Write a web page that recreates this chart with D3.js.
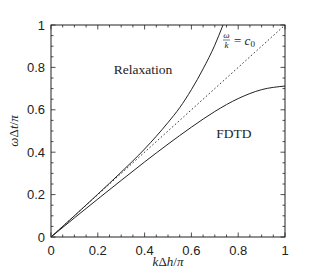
<!DOCTYPE html>
<html><head><meta charset="utf-8">
<script src="https://cdn.jsdelivr.net/npm/d3@7"></script>
<style>body{margin:0;background:#fff}svg{display:block}</style></head>
<body><svg id="c" width="320" height="274"></svg>
<script>
// ---- data ----
const relaxK = [0, 0.1, 0.2, 0.3, 0.4, 0.5, 0.55, 0.6, 0.65, 0.7, 0.735];
const relaxW = [0, 0.1, 0.202, 0.306, 0.415, 0.54, 0.61, 0.695, 0.793, 0.905, 1.0];
const fdtdK = [0, 0.1, 0.2, 0.3, 0.4, 0.5, 0.6, 0.7, 0.8, 0.9, 1.0];
const fdtdW = [0, 0.09, 0.179, 0.267, 0.354, 0.438, 0.518, 0.592, 0.653, 0.695, 0.712];
const lightK = [0, 1];
const lightW = [0, 1];
const xTicks = [0, 0.2, 0.4, 0.6, 0.8, 1];
const yTicks = [0, 0.2, 0.4, 0.6, 0.8, 1];
const minorTicks = d3.range(0, 1.0001, 0.05);

const L = 51, R = 285, T = 25, B = 237;
const svg = d3.select('#c');
const x = d3.scaleLinear().domain([0, 1]).range([L, R]);
const y = d3.scaleLinear().domain([0, 1]).range([B, T]);
const ink = '#222';

svg.append('clipPath').attr('id', 'clip').append('rect')
  .attr('x', L).attr('y', T).attr('width', R - L).attr('height', B - T);

const line = d3.line().x(d => x(d[0])).y(d => y(d[1])).curve(d3.curveMonotoneX);
const zip = (a, b) => a.map((v, i) => [v, b[i]]);

const g = svg.append('g').attr('clip-path', 'url(#clip)');
g.append('path').attr('d', line(zip(lightK, lightW))).attr('fill', 'none')
  .attr('stroke', ink).attr('stroke-width', 0.9).attr('stroke-dasharray', '1.6,2.2');
g.append('path').attr('d', line(zip(relaxK, relaxW))).attr('fill', 'none')
  .attr('stroke', ink).attr('stroke-width', 1);
g.append('path').attr('d', line(zip(fdtdK, fdtdW))).attr('fill', 'none')
  .attr('stroke', ink).attr('stroke-width', 1);

// frame
svg.append('rect').attr('x', L).attr('y', T).attr('width', R - L).attr('height', B - T)
  .attr('fill', 'none').attr('stroke', ink).attr('stroke-width', 1);

// ticks (inward, mirrored)
const fmt = d => d === 0 ? '0' : d === 1 ? '1' : d3.format('.1f')(d);
const tickG = svg.append('g').attr('stroke', ink).attr('stroke-width', 0.8);
minorTicks.forEach(t => {
  const major = xTicks.some(v => Math.abs(v - t) < 1e-6);
  const len = major ? 4.5 : 2.5;
  tickG.append('line').attr('x1', x(t)).attr('x2', x(t)).attr('y1', B).attr('y2', B - len);
  tickG.append('line').attr('x1', x(t)).attr('x2', x(t)).attr('y1', T).attr('y2', T + len);
  tickG.append('line').attr('y1', y(t)).attr('y2', y(t)).attr('x1', L).attr('x2', L + len);
  tickG.append('line').attr('y1', y(t)).attr('y2', y(t)).attr('x1', R).attr('x2', R - len);
});

const sans = 'Liberation Sans, Arial, sans-serif';
xTicks.forEach(t => {
  svg.append('text').attr('x', x(t)).attr('y', 255).attr('text-anchor', 'middle')
    .attr('font-family', sans).attr('font-size', 13).attr('fill', ink).text(fmt(t));
});
yTicks.forEach(t => {
  svg.append('text').attr('x', 45).attr('y', y(t) + 4.5).attr('text-anchor', 'end')
    .attr('font-family', sans).attr('font-size', 13).attr('fill', ink).text(fmt(t));
});

// axis labels
const xl = svg.append('text').attr('x', 168).attr('y', 266).attr('text-anchor', 'middle')
  .attr('font-family', 'Liberation Serif, serif').attr('font-size', 13).attr('fill', ink);
xl.append('tspan').attr('font-style', 'italic').text('k');
xl.append('tspan').text('Δ');
xl.append('tspan').attr('font-style', 'italic').text('h');
xl.append('tspan').text('/');
xl.append('tspan').attr('font-style', 'italic').text('π');

const yl = svg.append('text').attr('transform', 'translate(18,131) rotate(-90)').attr('text-anchor', 'middle')
  .attr('font-family', 'Liberation Serif, serif').attr('font-size', 13).attr('fill', ink);
yl.append('tspan').attr('font-style', 'italic').text('ω');
yl.append('tspan').text('Δ');
yl.append('tspan').attr('font-style', 'italic').text('t');
yl.append('tspan').text('/');
yl.append('tspan').attr('font-style', 'italic').text('π');

// annotations
svg.append('text').attr('x', 143).attr('y', 74).attr('text-anchor', 'middle')
  .attr('font-family', 'Liberation Serif, serif').attr('font-size', 13.5).attr('fill', ink).text('Relaxation');
svg.append('text').attr('x', 234).attr('y', 138).attr('text-anchor', 'middle')
  .attr('font-family', 'Liberation Serif, serif').attr('font-size', 13.5).attr('fill', ink).text('FDTD');

// omega/k = c0
svg.append('text').attr('x', 226.5).attr('y', 38).attr('text-anchor', 'middle')
  .attr('font-family', 'Liberation Serif, serif').attr('font-style', 'italic').attr('font-size', 9).attr('fill', ink).text('ω');
svg.append('line').attr('x1', 223).attr('x2', 230).attr('y1', 40).attr('y2', 40).attr('stroke', ink).attr('stroke-width', 0.6);
svg.append('text').attr('x', 226.5).attr('y', 47.5).attr('text-anchor', 'middle')
  .attr('font-family', 'Liberation Serif, serif').attr('font-style', 'italic').attr('font-size', 9).attr('fill', ink).text('k');
const eq = svg.append('text').attr('x', 234).attr('y', 45).attr('font-family', 'Liberation Serif, serif')
  .attr('font-size', 13).attr('fill', ink);
eq.append('tspan').text('= ');
eq.append('tspan').attr('font-style', 'italic').text('c');
eq.append('tspan').attr('font-size', 9).attr('dy', 2).text('0');
</script></body></html>
